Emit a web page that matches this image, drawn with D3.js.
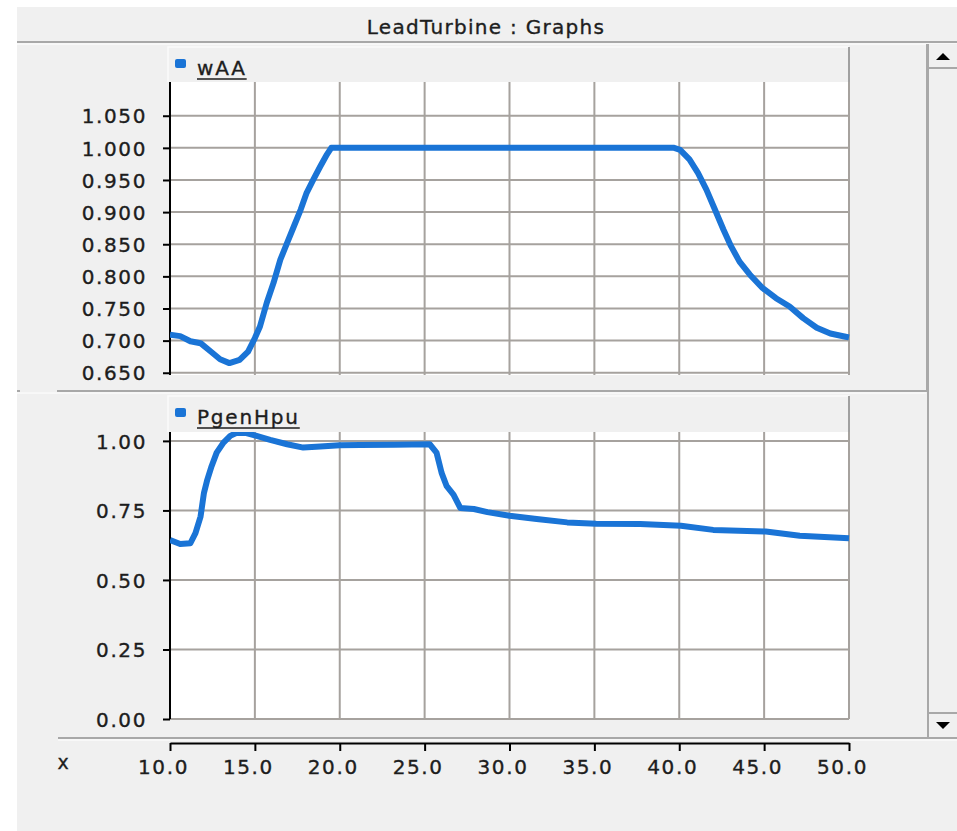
<!DOCTYPE html>
<html><head><meta charset="utf-8">
<script src="https://cdn.jsdelivr.net/npm/d3@7"></script>
<style>
html,body{margin:0;padding:0;background:#fff;}
svg text{font-family:"DejaVu Sans",Verdana,sans-serif;fill:#1e1e1e;}
</style></head>
<body><svg id="c" width="957" height="831"></svg>
<script>
// ---- data ----
const title = "LeadTurbine : Graphs";
const xLabel = "x";
const xTicks = [10, 15, 20, 25, 30, 35, 40, 45, 50];
const wAATicks = [0.65, 0.70, 0.75, 0.80, 0.85, 0.90, 0.95, 1.00, 1.05];
const pgenTicks = [0, 0.25, 0.5, 0.75, 1.0];
const wAAName = "wAA";
const wAAX = [10, 10.6, 11.2, 11.8, 12.4, 12.95, 13.5, 14.1, 14.6, 15.0, 15.3, 15.7, 16.1, 16.5, 16.9, 17.3, 17.7, 18.05, 18.45, 18.85, 19.25, 19.5, 25, 30, 35, 39.7, 40.05, 40.6, 41.1, 41.6, 42.1, 42.6, 43.05, 43.55, 44.15, 44.9, 45.7, 46.5, 47.3, 48.1, 48.9, 49.8, 50];
const wAAY = [0.709, 0.707, 0.699, 0.696, 0.683, 0.671, 0.665, 0.670, 0.683, 0.704, 0.722, 0.759, 0.790, 0.826, 0.852, 0.878, 0.904, 0.930, 0.951, 0.971, 0.990, 1.000, 1.000, 1.000, 1.000, 1.000, 0.997, 0.982, 0.961, 0.935, 0.904, 0.873, 0.847, 0.823, 0.803, 0.782, 0.766, 0.753, 0.735, 0.720, 0.711, 0.706, 0.705];
const pgenName = "PgenHpu";
const pgenX = [10, 10.6, 11.2, 11.5, 11.8, 12.0, 12.2, 12.45, 12.75, 13.15, 13.55, 13.9, 14.5, 15.1, 15.9, 16.9, 17.85, 18.85, 20, 21.2, 23.2, 25.3, 25.7, 26.0, 26.3, 26.7, 27.1, 27.9, 28.7, 30, 31.6, 33.4, 35.1, 37.7, 40.1, 42, 45.1, 47.1, 50];
const pgenY = [0.644, 0.629, 0.632, 0.668, 0.728, 0.813, 0.861, 0.909, 0.958, 0.994, 1.018, 1.028, 1.028, 1.018, 1.004, 0.988, 0.976, 0.980, 0.984, 0.985, 0.986, 0.988, 0.958, 0.885, 0.837, 0.807, 0.759, 0.755, 0.744, 0.731, 0.719, 0.707, 0.702, 0.701, 0.695, 0.680, 0.674, 0.659, 0.650];

// ---- layout ----
const svg = d3.select("#c");
const BG = "#f0f0f0", GRID = "#a6a29e", BLUE = "#1a74d6", DARK = "#a0a0a0", INK = "#1c1c1c";
const FS = 20;
svg.append("rect").attr("x",17).attr("y",7).attr("width",940).attr("height",824).attr("fill",BG);

function ink(sel){ return sel.attr("fill",INK).attr("stroke",INK).attr("stroke-width",0.35); }

// title bar
ink(svg.append("text").attr("x",486).attr("y",34).attr("text-anchor","middle")
  .attr("font-size",FS).attr("letter-spacing",1.3).text(title));
svg.append("line").attr("x1",17).attr("x2",957).attr("y1",42).attr("y2",42).attr("stroke","#a8a8a8").attr("stroke-width",2);
svg.append("line").attr("x1",17).attr("x2",957).attr("y1",44).attr("y2",44).attr("stroke","#ffffff").attr("stroke-width",1);

// scrollbar
svg.append("rect").attr("x",927).attr("y",44).attr("width",30).attr("height",695).attr("fill","#f0f0f0");
svg.append("line").attr("x1",928).attr("x2",928).attr("y1",44).attr("y2",739).attr("stroke","#a8a8a8").attr("stroke-width",2);
svg.append("line").attr("x1",929).attr("x2",957).attr("y1",68).attr("y2",68).attr("stroke","#a8a8a8").attr("stroke-width",2);
svg.append("line").attr("x1",929).attr("x2",957).attr("y1",713).attr("y2",713).attr("stroke","#a8a8a8").attr("stroke-width",2);
svg.append("path").attr("d","M936,60 L943,53 L950,60 Z").attr("fill","#000");
svg.append("path").attr("d","M936,722 L950,722 L943,729 Z").attr("fill","#000");

const x = d3.scaleLinear().domain([10,50]).range([170,849]);

function panel(opts){
  const {top, bottom, legTop, yDomain, ticks, fmt, name, xs, ys, id} = opts;
  const y = d3.scaleLinear().domain(yDomain).range([bottom, top]);
  // legend box
  const lg = svg.append("g");
  lg.append("rect").attr("x",168).attr("y",legTop).attr("width",681).attr("height",top-legTop).attr("fill",BG);
  lg.append("path").attr("d",`M168,${top} L168,${legTop} L849,${legTop}`).attr("fill","none").attr("stroke","#fafafa").attr("stroke-width",1.5);
  lg.append("path").attr("d",`M849,${legTop} L849,${top}`).attr("fill","none").attr("stroke",DARK).attr("stroke-width",2);
  lg.append("rect").attr("x",175).attr("y",legTop+12).attr("width",11).attr("height",9).attr("rx",2).attr("fill",BLUE);
  const lt = ink(lg.append("text").attr("x",197).attr("y",legTop+28).attr("font-size",FS).attr("letter-spacing",1.8).text(name));
  const w = lt.node().getComputedTextLength();
  lg.append("line").attr("x1",197).attr("x2",197+w).attr("y1",legTop+32).attr("y2",legTop+32).attr("stroke",INK).attr("stroke-width",1.6);
  // plot area
  svg.append("rect").attr("x",170).attr("y",top).attr("width",679).attr("height",bottom-top).attr("fill","#fff");
  const g = svg.append("g");
  g.selectAll("line.h").data(ticks).join("line").attr("class","h")
    .attr("x1",170).attr("x2",849).attr("y1",d=>y(d)).attr("y2",d=>y(d))
    .attr("stroke",GRID).attr("stroke-width",2);
  g.selectAll("line.v").data(xTicks.slice(1)).join("line").attr("class","v")
    .attr("x1",d=>x(d)).attr("x2",d=>x(d)).attr("y1",top).attr("y2",bottom)
    .attr("stroke",GRID).attr("stroke-width",2);
  // y axis
  const ax = svg.append("g").attr("transform","translate(170,0)")
    .call(d3.axisLeft(y).tickValues(ticks).tickFormat(d3.format(fmt)).tickSize(7).tickSizeOuter(0).tickPadding(16));
  ax.select(".domain").attr("stroke","#000").attr("stroke-width",2).attr("d",`M0,${top}V${bottom}`);
  ax.selectAll(".tick line").attr("stroke","#000").attr("stroke-width",2);
  ink(ax.selectAll(".tick text").attr("font-size",FS).attr("letter-spacing",1.6)
    .attr("font-family","DejaVu Sans, Verdana, sans-serif").attr("dy","0.36em"));
  // clip + line
  svg.append("clipPath").attr("id",id).append("rect").attr("x",170).attr("y",top).attr("width",681).attr("height",bottom-top);
  const line = d3.line().x(d=>x(d[0])).y(d=>y(d[1]));
  svg.append("path").attr("clip-path",`url(#${id})`).datum(d3.zip(xs, ys))
    .attr("d",line).attr("fill","none").attr("stroke",BLUE).attr("stroke-width",6)
    .attr("stroke-linejoin","round").attr("stroke-linecap","butt");
  return y;
}

panel({top:82, bottom:375, legTop:47, yDomain:[0.6465,1.1025], ticks:wAATicks, fmt:".3f", name:wAAName, xs:wAAX, ys:wAAY, id:"c1"});
// separator
svg.append("line").attr("x1",57).attr("x2",928).attr("y1",391).attr("y2",391).attr("stroke","#a8a8a8").attr("stroke-width",2);
svg.append("line").attr("x1",17).attr("x2",20).attr("y1",391).attr("y2",391).attr("stroke","#a8a8a8").attr("stroke-width",2);
svg.append("line").attr("x1",17).attr("x2",926).attr("y1",393).attr("y2",393).attr("stroke","#fff").attr("stroke-width",1);
svg.append("line").attr("x1",927).attr("x2",927).attr("y1",44).attr("y2",392).attr("stroke","#a8a8a8").attr("stroke-width",2);

panel({top:432, bottom:719, legTop:396, yDomain:[0,1.032], ticks:pgenTicks, fmt:".2f", name:pgenName, xs:pgenX, ys:pgenY, id:"c2"});

// bottom separator
svg.append("line").attr("x1",58).attr("x2",957).attr("y1",738).attr("y2",738).attr("stroke","#a8a8a8").attr("stroke-width",2);
svg.append("line").attr("x1",58).attr("x2",957).attr("y1",740).attr("y2",740).attr("stroke","#fff").attr("stroke-width",1);

// x axis
const xa = svg.append("g").attr("transform","translate(0,743)")
  .call(d3.axisBottom(x).tickValues(xTicks).tickFormat(d3.format(".1f")).tickSize(8).tickSizeOuter(0).tickPadding(9));
xa.select(".domain").attr("stroke","#000").attr("stroke-width",2);
xa.selectAll(".tick line").attr("stroke","#000").attr("stroke-width",2);
ink(xa.selectAll(".tick text").attr("font-size",FS).attr("letter-spacing",1.6).attr("dx",-7)
  .attr("font-family","DejaVu Sans, Verdana, sans-serif"));
ink(svg.append("text").attr("x",63).attr("y",769).attr("text-anchor","middle").attr("font-size",FS-1).text(xLabel));
</script></body></html>
